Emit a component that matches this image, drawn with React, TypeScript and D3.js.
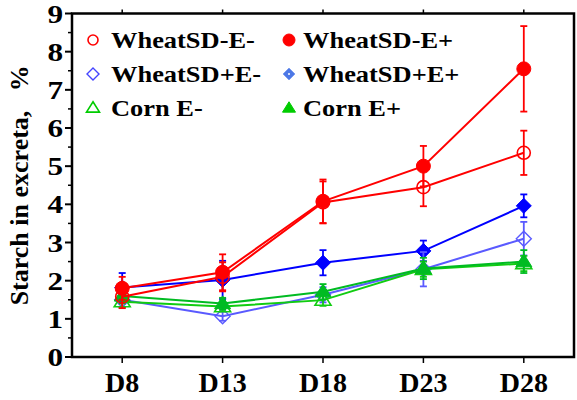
import * as d3 from 'd3';

const days = ['D8', 'D13', 'D18', 'D23', 'D28'];
const yTicks = [0, 1, 2, 3, 4, 5, 6, 7, 8, 9];

// means and error (sd) per series
const wheatMinusEMinus = [1.58, 2.1, 4.05, 4.45, 5.35];
const wheatMinusEMinusErr = [0.3, 0.38, 0.55, 0.5, 0.58];
const wheatMinusEPlus = [1.8, 2.22, 4.08, 5.0, 7.55];
const wheatMinusEPlusErr = [0.3, 0.47, 0.57, 0.53, 1.12];
const wheatPlusEMinus = [1.5, 1.07, 1.63, 2.3, 3.1];
const wheatPlusEMinusErr = [0.2, 0.12, 0.2, 0.45, 0.44];
const wheatPlusEPlus = [1.82, 2.02, 2.47, 2.78, 3.96];
const wheatPlusEPlusErr = [0.38, 0.5, 0.33, 0.27, 0.3];
const cornEMinus = [1.45, 1.32, 1.49, 2.3, 2.45];
const cornEMinusErr = [0.15, 0.12, 0.15, 0.2, 0.2];
const cornEPlus = [1.6, 1.4, 1.71, 2.32, 2.5];
const cornEPlusErr = [0.2, 0.15, 0.2, 0.28, 0.3];

type Shape = 'circle' | 'diamond' | 'triangle';

const series = [
  { name: 'WheatSD+E+', values: wheatPlusEPlus, err: wheatPlusEPlusErr, color: '#0000ff', shape: 'diamond' as Shape, filled: true },
  { name: 'WheatSD+E-', values: wheatPlusEMinus, err: wheatPlusEMinusErr, color: '#5a5aff', shape: 'diamond' as Shape, filled: false },
  { name: 'Corn E-', values: cornEMinus, err: cornEMinusErr, color: '#11cc11', shape: 'triangle' as Shape, filled: false },
  { name: 'Corn E+', values: cornEPlus, err: cornEPlusErr, color: '#00bb22', shape: 'triangle' as Shape, filled: true },
  { name: 'WheatSD-E-', values: wheatMinusEMinus, err: wheatMinusEMinusErr, color: '#ff0000', shape: 'circle' as Shape, filled: false },
  { name: 'WheatSD-E+', values: wheatMinusEPlus, err: wheatMinusEPlusErr, color: '#ff0000', shape: 'circle' as Shape, filled: true },
];

const legendOrder = [
  ['WheatSD-E-', 'WheatSD-E+'],
  ['WheatSD+E-', 'WheatSD+E+'],
  ['Corn E-', 'Corn E+'],
];

const font = '"Liberation Serif", "Times New Roman", serif';

function Marker({ shape, filled, color, x, y, legend }: { shape: Shape; filled: boolean; color: string; x: number; y: number; legend?: boolean }) {
  const fill = filled ? color : 'none';
  if (shape === 'circle') {
    const r = legend ? (filled ? 6 : 5) : filled ? 7 : 6.5;
    return <circle cx={x} cy={y} r={r} fill={fill} stroke={color} strokeWidth={filled ? 1 : 1.6} />;
  }
  if (shape === 'diamond') {
    const s = legend ? 6 : 7.5;
    const d = `M${x},${y - s}L${x + s},${y}L${x},${y + s}L${x - s},${y}Z`;
    if (legend && filled) {
      return (
        <g>
          <path d={d} fill="#4d78e6" stroke="#7f9ff0" strokeWidth={1} />
          <circle cx={x} cy={y} r={1} fill="#fff" />
        </g>
      );
    }
    return <path d={d} fill={fill} stroke={color} strokeWidth={filled ? 1 : 1.4} />;
  }
  const s = legend ? 6.5 : 8;
  const h = s * 1.6;
  const d = `M${x},${y - h * 0.6}L${x + s},${y + h * 0.4}L${x - s},${y + h * 0.4}Z`;
  return <path d={d} fill={fill} stroke={legend && filled ? '#00cc00' : color} strokeWidth={filled ? 1 : 1.6} strokeLinejoin="miter" />;
}

export default function App() {
  const width = 577;
  const height = 400;
  const left = 72;
  const right = 574;
  const top = 13.5;
  const bottom = 357;

  const x = d3.scalePoint<string>().domain(days).range([left, right]).padding(0.5);
  const y = d3.scaleLinear().domain([0, 9]).range([bottom, top]);
  const line = d3
    .line<number>()
    .x((_, i) => x(days[i]) as number)
    .y((d) => y(d));

  const minorTicks = d3.range(0.5, 9, 1);

  return (
    <svg width={width} height={height} style={{ position: 'absolute', left: 0, top: 0, background: '#fff' }} fontFamily={font}>
      {/* frame */}
      <rect x={left} y={top} width={right - left} height={bottom - top} fill="none" stroke="#000" strokeWidth={2.5} />

      {/* y axis ticks */}
      {yTicks.map((t) => (
        <g key={t}>
          <line x1={left - 7} x2={left} y1={y(t)} y2={y(t)} stroke="#000" strokeWidth={2} />
          <text transform={`translate(${left - 9},${y(t)}) scale(1.2,1)`} dy="0.35em" textAnchor="end" fontSize={26} fontWeight="bold">
            {t}
          </text>
        </g>
      ))}
      {minorTicks.map((t) => (
        <line key={t} x1={left - 4} x2={left} y1={y(t)} y2={y(t)} stroke="#000" strokeWidth={1.5} />
      ))}

      {/* x axis ticks */}
      {days.map((d) => (
        <g key={d}>
          <line x1={x(d)} x2={x(d)} y1={bottom} y2={bottom + 6} stroke="#000" strokeWidth={1.5} />
          <line x1={x(d)} x2={x(d)} y1={top} y2={top - 4} stroke="#000" strokeWidth={1.5} />
          <text x={x(d)} y={392} textAnchor="middle" fontSize={28} fontWeight="bold">
            {d}
          </text>
        </g>
      ))}

      {/* y label */}
      <text transform={`translate(28, ${(top + bottom) / 2}) rotate(-90)`} textAnchor="middle" fontSize={26} fontWeight="bold" style={{ whiteSpace: 'pre' }}>
        {'Starch in excreta,   %'}
      </text>

      {/* series */}
      {series.map((s) => (
        <g key={s.name}>
          <path d={line(s.values) || ''} fill="none" stroke={s.color} strokeWidth={2} />
          {s.values.map((v, i) => {
            const cx = x(days[i]) as number;
            const e = s.err[i];
            return (
              <g key={i} stroke={s.color} strokeWidth={1.8}>
                <line x1={cx} x2={cx} y1={y(v + e)} y2={y(v - e)} />
                <line x1={cx - 3.5} x2={cx + 3.5} y1={y(v + e)} y2={y(v + e)} />
                <line x1={cx - 3.5} x2={cx + 3.5} y1={y(v - e)} y2={y(v - e)} />
              </g>
            );
          })}
          {s.values.map((v, i) => (
            <Marker key={'m' + i} shape={s.shape} filled={s.filled} color={s.color} x={x(days[i]) as number} y={y(v)} />
          ))}
        </g>
      ))}

      {/* legend */}
      {legendOrder.map((row, r) =>
        row.map((name, c) => {
          const s = series.find((q) => q.name === name)!;
          const mx = c === 0 ? 93 : 289;
          const tx = c === 0 ? 111 : 303;
          const my = 40 + r * 34;
          return (
            <g key={name}>
              <Marker shape={s.shape} filled={s.filled} color={s.shape === 'diamond' && !s.filled ? '#4444ff' : s.shape === 'triangle' ? '#00cc00' : s.color} x={mx} y={my} legend />
              <text transform={`translate(${tx},${my}) scale(1.15,1)`} dy="0.35em" fontSize={23} fontWeight="bold">
                {name}
              </text>
            </g>
          );
        })
      )}
    </svg>
  );
}
